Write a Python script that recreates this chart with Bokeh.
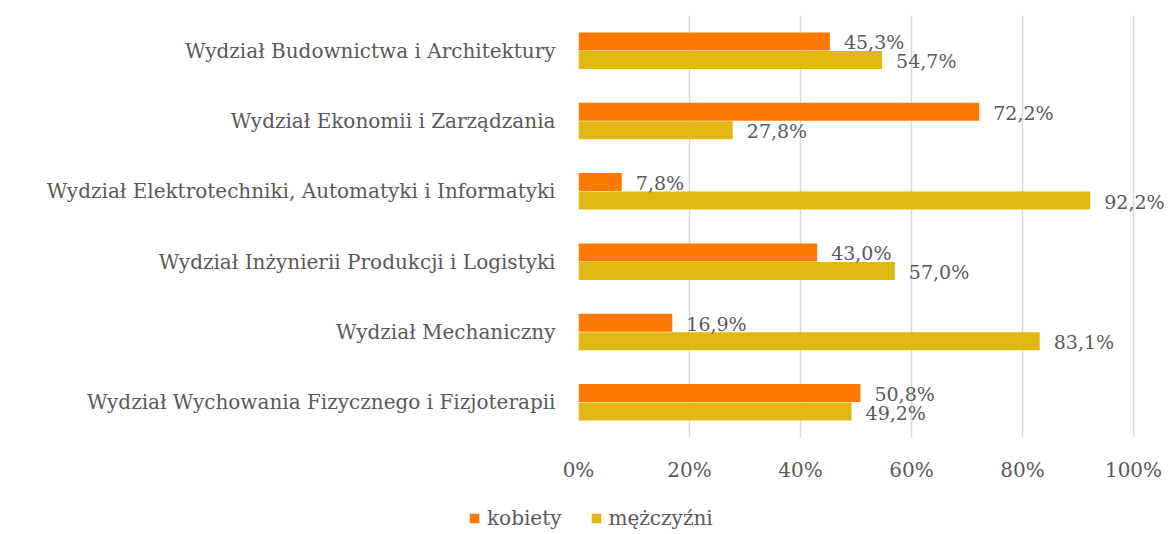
from bokeh.plotting import figure
from bokeh.layouts import column, row
from bokeh.models import ColumnDataSource, FactorRange, Range1d, Legend, LegendItem, FixedTicker
from bokeh.transform import dodge
from bokeh.core.properties import value
from bokeh.embed import file_html
from bokeh.resources import INLINE

categories = [
    "Wydział Budownictwa i Architektury",
    "Wydział Ekonomii i Zarządzania",
    "Wydział Elektrotechniki, Automatyki i Informatyki",
    "Wydział Inżynierii Produkcji i Logistyki",
    "Wydział Mechaniczny",
    "Wydział Wychowania Fizycznego i Fizjoterapii",
]
kobiety = [45.3, 72.2, 7.8, 43.0, 16.9, 50.8]
mezczyzni = [54.7, 27.8, 92.2, 57.0, 83.1, 49.2]
series_names = ["kobiety", "mężczyźni"]
tick_values = [0, 20, 40, 60, 80, 100]

FONT = "DejaVu Serif"
FS = "20px"
FS_VAL = "19px"
TXT = "#595959"
C_K = "#FF7800"
C_M = "#E1B812"

W = 1168
H_MAIN = 498
H_LEG = 34
LEFT, TOP = 578, 15
FRAME_H = 422
X100 = 555  # pixels for 0..100%

def fmt(v):
    return ("%.1f" % v).replace(".", ",") + "%"

src = ColumnDataSource(dict(
    cat=categories,
    k=kobiety,
    m=mezczyzni,
    kl=[fmt(v) for v in kobiety],
    ml=[fmt(v) for v in mezczyzni],
))

p = figure(
    width=W, height=H_MAIN,
    y_range=FactorRange(*reversed(categories)),
    x_range=Range1d(0, (W - LEFT) / X100 * 100),
    output_backend="svg", toolbar_location=None,
    min_border_left=LEFT, min_border_right=0, min_border_top=TOP,
    min_border_bottom=H_MAIN - TOP - FRAME_H,
)
p.outline_line_color = None

p.hbar(y=dodge("cat", 0.131, range=p.y_range), right="k", height=0.256, left=0,
       source=src, fill_color=C_K, line_color=None)
p.hbar(y=dodge("cat", -0.131, range=p.y_range), right="m", height=0.256, left=0,
       source=src, fill_color=C_M, line_color=None)

p.text(x="k", y=dodge("cat", 0.131, range=p.y_range), text="kl", source=src,
       x_offset=14, y_offset=1, text_baseline="middle", text_font=value(FONT),
       text_font_size=FS_VAL, text_color=TXT)
p.text(x="m", y=dodge("cat", -0.131, range=p.y_range), text="ml", source=src,
       x_offset=14, y_offset=1, text_baseline="middle", text_font=value(FONT),
       text_font_size=FS_VAL, text_color=TXT)

p.ygrid.grid_line_color = None
p.xgrid.grid_line_color = "#D9D9D9"
p.xgrid.grid_line_width = 1.5
p.xaxis.ticker = FixedTicker(ticks=tick_values)
p.xaxis.major_label_overrides = {v: f"{v}%" for v in tick_values}
for ax in (p.xaxis, p.yaxis):
    ax.axis_line_color = None
    ax.major_tick_line_color = None
    ax.minor_tick_line_color = None
    ax.major_label_text_font = FONT
    ax.major_label_text_font_size = FS
    ax.major_label_text_color = TXT
p.xaxis.major_label_standoff = 14
p.yaxis.major_label_standoff = 17

# legend strip: a thin figure whose frame spans the full width
lg = figure(width=W, height=H_LEG, x_range=Range1d(0, 1), y_range=Range1d(0, 1),
            output_backend="svg", toolbar_location=None, x_axis_type=None, y_axis_type=None,
            min_border_left=0, min_border_right=0, min_border_top=0, min_border_bottom=0)
lg.outline_line_color = None
lg.grid.visible = False
lsrc = ColumnDataSource(dict(y=[0.5], r=[0.0]))
r1 = lg.hbar(y="y", right="r", height=0.01, source=lsrc, fill_color=C_K, line_color=None)
r2 = lg.hbar(y="y", right="r", height=0.01, source=lsrc, fill_color=C_M, line_color=None)
legend = Legend(items=[
    LegendItem(label=series_names[0], renderers=[r1]),
    LegendItem(label=series_names[1], renderers=[r2]),
], orientation="horizontal", location=(468, 2))
legend.background_fill_alpha = 0
legend.border_line_color = None
legend.padding = 0
legend.margin = 0
legend.spacing = 28
legend.glyph_width = 12
legend.glyph_height = 12
legend.label_height = 22
legend.label_text_font = FONT
legend.label_text_font_size = FS
legend.label_text_color = TXT
legend.label_standoff = 7
lg.add_layout(legend, "center")

layout = column(p, row(lg), spacing=0)
open("out.html", "w").write(file_html(layout, INLINE))
